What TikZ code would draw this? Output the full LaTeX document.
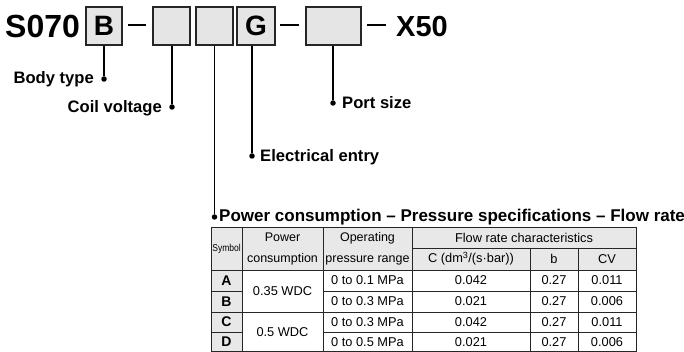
\documentclass[tikz,border=0pt]{standalone}
\usepackage{fontspec}
\setmainfont{Liberation Sans}
\begin{document}
\begin{tikzpicture}[x=1pt,y=-1pt,
  codebox/.style={draw=black!85, line width=1.5pt, fill=black!10, minimum height=38pt, inner sep=0pt,
    font=\fontsize{28}{28}\selectfont\bfseries},
  leaddot/.style={circle, fill=black, inner sep=0pt, minimum size=5.5pt},
  leadline/.style={line width=1.2pt},
  dashline/.style={line width=2.5pt},
  lbl/.style={font=\fontsize{16.6}{18}\selectfont\bfseries, inner sep=0pt},
  cell/.style={font=\fontsize{12.8}{14}\selectfont, inner sep=0pt, align=center},
  symcell/.style={font=\fontsize{14}{14}\selectfont\bfseries, inner sep=0pt},
  grid/.style={draw=black!85, line width=0.7pt}
]
\useasboundingbox (0,0) rectangle (684,352);

% ---- code line ----
\node[anchor=base west, inner sep=0pt, font=\fontsize{32}{32}\selectfont\bfseries] (s070) at (5,38) {S070};
\node[codebox, minimum width=36pt] (bB) at (104,26) {B};
\node[codebox, minimum width=37pt] (b2) at (171.5,26) {};
\node[codebox, minimum width=37pt] (b3) at (214.5,26) {};
\node[codebox, minimum width=38pt] (bG) at (256,26) {G};
\node[codebox, minimum width=55pt] (b5) at (333.5,26) {};
\node[anchor=base west, inner sep=0pt, font=\fontsize{29}{29}\selectfont\bfseries] (x50) at (396,37) {X50};

\coordinate (h1a) at (128,25);
\coordinate (h1b) at (146,25);
\coordinate (h2a) at (280,25);
\coordinate (h2b) at (299,25);
\coordinate (h3a) at (367,25);
\coordinate (h3b) at (386,25);
\draw[dashline] (h1a) -- (h1b);
\draw[dashline] (h2a) -- (h2b);
\draw[dashline] (h3a) -- (h3b);

% ---- leaders ----
\node[leaddot] (dB) at (104,79) {};
\node[leaddot] (d2) at (172,107) {};
\node[leaddot] (d3) at (214.5,217) {};
\node[leaddot] (dG) at (252,156) {};
\node[leaddot] (d5) at (333,103) {};

\draw[leadline] (bB.south) -- (dB);
\draw[leadline] (b2.south -| d2) -- (d2);
\draw[leadline] (b3.south -| d3) -- (d3);
\draw[leadline] (bG.south -| dG) -- (dG);
\draw[leadline] (b5.south -| d5) -- (d5);

\node[lbl, anchor=base east] (lB) at ([shift={(-10,5)}]dB.center) {Body type};
\node[lbl, anchor=base east] (l2) at ([shift={(-10,6)}]d2.center) {Coil voltage};
\node[lbl, anchor=base west] (l5) at ([shift={(9,6)}]d5.center) {Port size};
\node[lbl, anchor=base west] (lG) at ([shift={(8,6)}]dG.center) {Electrical entry};
\node[lbl, anchor=base west, font=\fontsize{17}{18}\selectfont\bfseries] (l3) at ([shift={(4.5,5)}]d3.center) {Power consumption -- Pressure specifications -- Flow rate};

% ---- table ----
\fill[black!9] (211,227) rectangle (636,270);
\fill[black!9] (211,270) rectangle (242,351.5);

\draw[grid] (211,227) -- (636,227);
\draw[grid] (412,248) -- (636,248);
\draw[grid] (211,270) -- (636,270);
\draw[grid] (211,291) -- (242,291);
\draw[grid] (323,291) -- (636,291);
\draw[grid] (211,312) -- (636,312);
\draw[grid] (211,332) -- (242,332);
\draw[grid] (323,332) -- (636,332);
\draw[grid] (211,351.5) -- (636,351.5);
\foreach \xx in {211,242,323,412,636} \draw[grid] (\xx,227) -- (\xx,351.5);
\foreach \xx in {530,578} \draw[grid] (\xx,248) -- (\xx,351.5);

\node[inner sep=0pt, xscale=0.85, font=\fontsize{10}{12}\selectfont] (hsym) at (226.5,248.5) {Symbol};
\node[cell, font=\fontsize{12.5}{21}\selectfont] (hpow) at (282.5,248.5) {Power\\consumption};
\node[cell, font=\fontsize{12.5}{21}\selectfont] (hpr) at (367.5,248.5) {Operating\\pressure range};
\node[cell] (hflow) at (524,237.5) {Flow rate characteristics};
\node[cell] (hC) at (471,259) {C (dm\textsuperscript{3}/(s·bar))};
\node[cell] (hb) at (554,259) {b};
\node[cell] (hcv) at (607,259) {CV};

\node[symcell] (sA) at (226.5,280.5) {A};
\node[symcell] (sB) at (226.5,301.5) {B};
\node[symcell] (sC) at (226.5,322) {C};
\node[symcell] (sD) at (226.5,341.75) {D};

\node[cell] (p1) at (282.5,291) {0.35 WDC};
\node[cell] (p2) at (282.5,332) {0.5 WDC};

\node[cell] (rA) at (367.5,280.5) {0 to 0.1 MPa};
\node[cell] (rB) at (367.5,301.5) {0 to 0.3 MPa};
\node[cell] (rC) at (367.5,322) {0 to 0.3 MPa};
\node[cell] (rD) at (367.5,341.75) {0 to 0.5 MPa};

\node[cell] (cA) at (471,280.5) {0.042};
\node[cell] (cB) at (471,301.5) {0.021};
\node[cell] (cC) at (471,322) {0.042};
\node[cell] (cD) at (471,341.75) {0.021};

\node[cell] (bA) at (554,280.5) {0.27};
\node[cell] (bBv) at (554,301.5) {0.27};
\node[cell] (bC) at (554,322) {0.27};
\node[cell] (bD) at (554,341.75) {0.27};

\node[cell] (vA) at (607,280.5) {0.011};
\node[cell] (vB) at (607,301.5) {0.006};
\node[cell] (vC) at (607,322) {0.011};
\node[cell] (vD) at (607,341.75) {0.006};
\end{tikzpicture}
\end{document}
